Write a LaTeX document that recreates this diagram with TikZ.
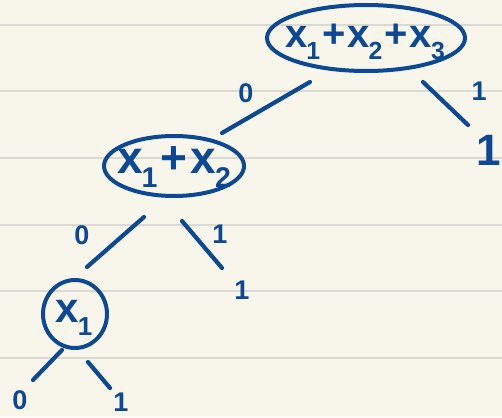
\documentclass[tikz,border=0pt]{standalone}
\usepackage{fontspec}
\setmainfont{Liberation Sans}
\usetikzlibrary{calc}
\definecolor{paper}{HTML}{F8F6EA}
\definecolor{ruling}{HTML}{DAD9D4}
\definecolor{ink}{HTML}{0C4894}
\newcommand{\xs}[1]{x\kern-1pt\raisebox{-0.3em}{\scalebox{0.62}{#1}}}
\begin{document}
\begin{tikzpicture}[x=1pt,y=-1pt,
  stroke/.style={draw=ink, line width=4.2pt, line cap=round},
  bubble/.style={draw=ink, line width=4pt},
  term/.style={text=ink, inner sep=0pt},
  lbl/.style={text=ink, inner sep=0pt, font=\fontsize{27}{27}\selectfont\bfseries}]
\fill[paper] (0,0) rectangle (502,417);
\useasboundingbox (0,0) rectangle (502,417);
\foreach \yy in {25,91,158,225,291,358}
  \draw[ruling, line width=1.6pt] (0,\yy) -- (502,\yy);

% terms
\node[term, font=\fontsize{40}{40}\selectfont\bfseries] (top) at (365,42) {\xs{1}\kern2pt+\kern2pt\xs{2}\kern2pt+\kern2pt\xs{3}};
\node[term, font=\fontsize{46}{46}\selectfont\bfseries] (mid) at (174,167) {\xs{1}\kern3pt+\kern3pt\xs{2}};
\node[term, font=\fontsize{42}{42}\selectfont\bfseries] (x1) at (74,318) {\xs{1}};
\draw[bubble] (366,38) ellipse [x radius=99pt, y radius=33pt];
\draw[bubble] (174,166) ellipse [x radius=70pt, y radius=30pt];
\draw[bubble] (75,314) ellipse [x radius=32pt, y radius=34pt];

% leaves
\node[lbl, anchor=east] (r1) at (501,150) {\fontsize{44}{44}\selectfont 1};
\node[lbl] (m1) at (242,290) {1};
\node[lbl] (l0) at (20,400) {0};
\node[lbl] (l1) at (121,402) {1};

% edge labels
\node[lbl] (e0a) at (246,93) {0};
\node[lbl] (e1a) at (479,91) {1};
\node[lbl] (e0b) at (82,235) {0};
\node[lbl] (e1b) at (220,234) {1};

% connector stroke ends
\coordinate (a1) at (310,82);  \coordinate (a2) at (222,133);
\coordinate (b1) at (423,82);  \coordinate (b2) at (468,125);
\coordinate (c1) at (144,217); \coordinate (c2) at (87,267);
\coordinate (d1) at (182,221); \coordinate (d2) at (222,268);
\coordinate (f1) at (62,350);  \coordinate (f2) at (33,380);
\coordinate (g1) at (88,362);  \coordinate (g2) at (110,388);
\draw[stroke] (a1) -- (a2);
\draw[stroke] (b1) -- (b2);
\draw[stroke] (c1) -- (c2);
\draw[stroke] (d1) -- (d2);
\draw[stroke] (f1) -- (f2);
\draw[stroke] (g1) -- (g2);
\end{tikzpicture}
\end{document}
